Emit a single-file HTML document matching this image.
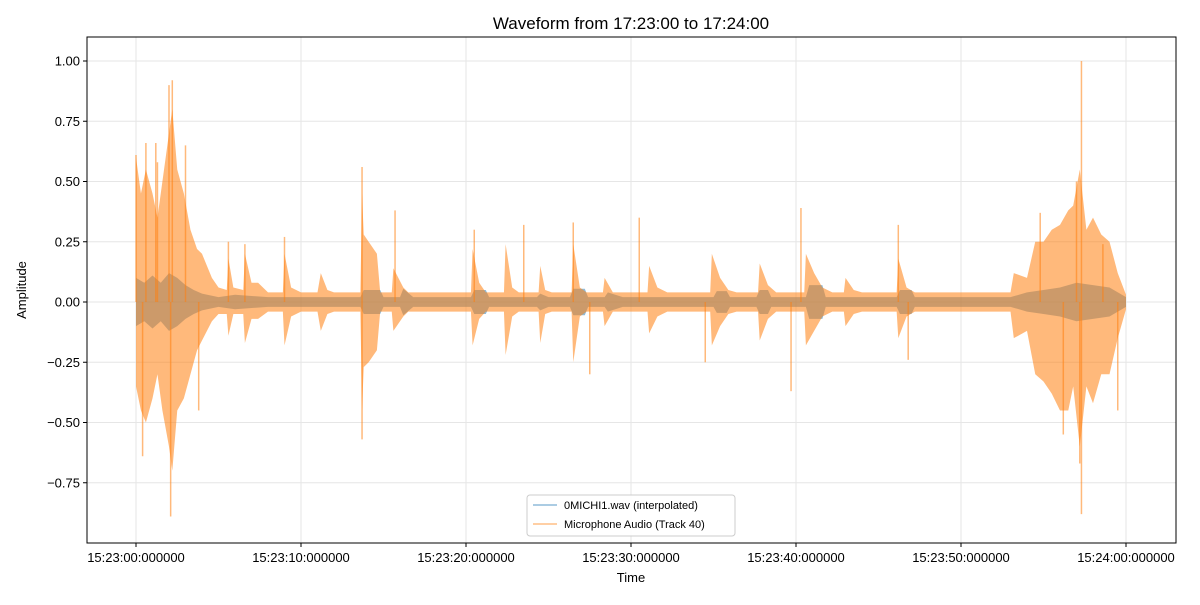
<!DOCTYPE html>
<html><head><meta charset="utf-8"><style>
body{margin:0;background:#fff;}
svg text{font-family:"Liberation Sans","DejaVu Sans",sans-serif;}
</style></head><body>
<svg id="chart" width="1200" height="600" xmlns="http://www.w3.org/2000/svg">
<rect width="1200" height="600" fill="#fff"/>
<text x="631" y="29" font-size="17" text-anchor="middle">Waveform from 17:23:00 to 17:24:00</text>
<g id="grid"></g>
<g id="series"></g>
<rect x="87" y="37" width="1089" height="506" fill="none" stroke="#000" stroke-width="1"/>
<g id="axes"></g>
<text x="631" y="582" font-size="13" text-anchor="middle">Time</text>
<text transform="translate(26,290) rotate(-90)" font-size="13" text-anchor="middle">Amplitude</text>
<g>
<rect x="527" y="495" width="208" height="41" rx="3" fill="#fff" fill-opacity="0.85" stroke="#ccc"/>
<line x1="533" y1="505" x2="557" y2="505" stroke="#1f77b4" stroke-opacity="0.6" stroke-width="1.2"/>
<text x="564" y="509" font-size="11">0MICHI1.wav (interpolated)</text>
<line x1="533" y1="524" x2="557" y2="524" stroke="#ff7f0e" stroke-opacity="0.6" stroke-width="1.2"/>
<text x="564" y="528" font-size="11">Microphone Audio (Track 40)</text>
</g>
</svg>
<script>
const xTicks=[0,10,20,30,40,50,60];
const xTickLabels=["15:23:00:000000","15:23:10:000000","15:23:20:000000","15:23:30:000000","15:23:40:000000","15:23:50:000000","15:24:00:000000"];
const yTicks=[1.0,0.75,0.5,0.25,0,-0.25,-0.5,-0.75];
const yTickLabels=["1.00","0.75","0.50","0.25","0.00","\u22120.25","\u22120.50","\u22120.75"];
const micTimes=[0,0.3,0.6,1.0,1.3,1.6,2.0,2.2,2.5,2.9,3.3,3.7,4.0,4.3,4.6,5.0,5.5,5.6,5.9,6.5,6.6,7.0,7.4,8.0,8.9,9.0,9.4,10.0,11.0,11.2,11.6,12.0,13.6,13.7,13.8,14.1,14.6,14.8,15.5,15.6,16.2,16.5,20.3,20.4,20.8,21.2,22.3,22.4,22.8,23.2,24.4,24.5,24.8,25.2,26.4,26.5,26.9,27.3,28.3,28.4,28.9,29.5,31.0,31.1,31.6,32.2,34.8,34.9,35.4,35.9,36.4,37.7,37.8,38.3,38.8,40.5,40.6,41.1,41.6,42.2,42.9,43.0,43.5,44.0,46.1,46.2,46.7,47.2,53.0,53.2,54.0,54.5,55.0,55.5,56.0,56.5,56.8,57.2,57.6,58.0,58.5,59.0,59.5,60];
const micUpper=[0.6,0.45,0.55,0.45,0.35,0.5,0.7,0.8,0.55,0.45,0.3,0.22,0.2,0.15,0.1,0.06,0.05,0.18,0.06,0.05,0.2,0.08,0.08,0.04,0.04,0.2,0.06,0.04,0.04,0.12,0.05,0.04,0.04,0.45,0.28,0.25,0.2,0.04,0.04,0.14,0.06,0.04,0.04,0.22,0.08,0.04,0.04,0.24,0.06,0.04,0.04,0.15,0.05,0.04,0.04,0.24,0.06,0.04,0.04,0.1,0.04,0.04,0.04,0.15,0.06,0.04,0.04,0.2,0.1,0.05,0.04,0.04,0.16,0.07,0.04,0.04,0.2,0.12,0.06,0.04,0.04,0.1,0.05,0.04,0.04,0.18,0.06,0.04,0.04,0.12,0.1,0.25,0.25,0.3,0.32,0.38,0.4,0.55,0.3,0.35,0.28,0.25,0.12,0.03];
const micLower=[-0.35,-0.45,-0.5,-0.4,-0.3,-0.45,-0.6,-0.7,-0.45,-0.4,-0.3,-0.2,-0.16,-0.12,-0.08,-0.05,-0.05,-0.14,-0.05,-0.05,-0.17,-0.07,-0.07,-0.04,-0.04,-0.18,-0.06,-0.04,-0.04,-0.12,-0.05,-0.04,-0.04,-0.45,-0.27,-0.25,-0.2,-0.04,-0.04,-0.12,-0.06,-0.04,-0.04,-0.18,-0.07,-0.04,-0.04,-0.22,-0.06,-0.04,-0.04,-0.17,-0.05,-0.04,-0.04,-0.25,-0.06,-0.04,-0.04,-0.1,-0.04,-0.04,-0.04,-0.13,-0.06,-0.04,-0.04,-0.18,-0.1,-0.05,-0.04,-0.04,-0.16,-0.07,-0.04,-0.04,-0.18,-0.12,-0.06,-0.04,-0.04,-0.1,-0.05,-0.04,-0.04,-0.15,-0.06,-0.04,-0.04,-0.15,-0.12,-0.3,-0.33,-0.38,-0.45,-0.45,-0.35,-0.6,-0.35,-0.42,-0.3,-0.3,-0.15,-0.03];
const spikeTimes=[0,0.4,0.6,1.3,2.0,2.1,2.2,3.0,13.7,13.7,15.7,9.0,20.5,23.5,26.5,27.5,30.5,34.5,40.3,39.7,46.2,46.8,57.3,57.3,57.2,54.8,58.6,59.5,1.2,3.8,5.6,6.6,57.0,56.2];
const spikeValues=[0.61,-0.64,0.66,0.58,0.9,-0.89,0.92,0.65,0.56,-0.57,0.38,0.27,0.3,0.32,0.33,-0.3,0.35,-0.25,0.39,-0.37,0.32,-0.24,1.0,-0.88,-0.67,0.37,0.24,-0.45,0.66,-0.45,0.25,0.24,0.5,-0.55];
const wavTimes=[0,0.5,1,1.5,2,2.5,3,3.5,4,5,6,8,13.6,13.8,14.8,15,16,16.2,16.8,20.3,20.5,21.2,21.4,24.3,24.5,25,26.3,26.5,27.2,27.4,28.4,28.6,29.5,35,35.2,35.8,36,37.6,37.8,38.3,38.5,40.6,40.8,41.6,41.8,46.1,46.3,47,47.2,53,54,55,56,57,58,59,60];
const wavUpper=[0.1,0.08,0.11,0.08,0.12,0.1,0.07,0.05,0.035,0.02,0.03,0.02,0.02,0.05,0.05,0.02,0.02,0.055,0.02,0.02,0.05,0.05,0.02,0.02,0.035,0.02,0.02,0.055,0.055,0.02,0.02,0.04,0.02,0.02,0.045,0.045,0.02,0.02,0.05,0.05,0.02,0.02,0.07,0.07,0.02,0.02,0.05,0.05,0.02,0.02,0.04,0.05,0.06,0.08,0.07,0.06,0.02];
const wavLower=wavUpper.map(v=>-v);

const NS="http://www.w3.org/2000/svg";
const xS=t=>136+t*16.5;
const yS=v=>302-v*241;
const grid=document.getElementById('grid'),axes=document.getElementById('axes'),ser=document.getElementById('series');
function mk(tag,attrs,parent){const e=document.createElementNS(NS,tag);for(const k in attrs)e.setAttribute(k,attrs[k]);parent.appendChild(e);return e;}
xTicks.forEach((t,i)=>{
  const g=mk('line',{x1:xS(t),x2:xS(t),y1:37,y2:543,stroke:'#e6e6e6','stroke-width':1},grid);
  
  
  mk('line',{x1:xS(t),x2:xS(t),y1:543,y2:547,stroke:'#000'},axes);
  const tx=mk('text',{x:xS(t),y:562,'font-size':13,'text-anchor':'middle'},axes);
  tx.textContent=xTickLabels[i];
  
  
});
yTicks.forEach((v,i)=>{
  const g=mk('line',{x1:87,x2:1176,y1:yS(v),y2:yS(v),stroke:'#e6e6e6','stroke-width':1},grid);
  
  
  mk('line',{x1:83,x2:87,y1:yS(v),y2:yS(v),stroke:'#000'},axes);
  const tx=mk('text',{x:80,y:yS(v)+4.5,'font-size':13,'text-anchor':'end'},axes);
  tx.textContent=yTickLabels[i];
  
  
});
function band(times,up,lo,color,op,name){
  let d='M'+times.map((t,i)=>xS(t)+','+yS(up[i])).join('L');
  for(let i=times.length-1;i>=0;i--)d+='L'+xS(times[i])+','+yS(lo[i]);
  const p=mk('path',{d:d+'Z',fill:color,'fill-opacity':op,stroke:'none'},ser);
  
  
}
band(wavTimes,wavUpper,wavLower,'#1f77b4',0.5,'wav-waveform');
band(micTimes,micUpper,micLower,'#ff7f0e',0.55,'microphone-waveform');
spikeTimes.forEach((t,i)=>{
  const l=mk('line',{x1:xS(t),x2:xS(t),y1:yS(0),y2:yS(spikeValues[i]),stroke:'#ff7f0e','stroke-opacity':0.55,'stroke-width':1.5},ser);
  
  
});
</script>
</body></html>
